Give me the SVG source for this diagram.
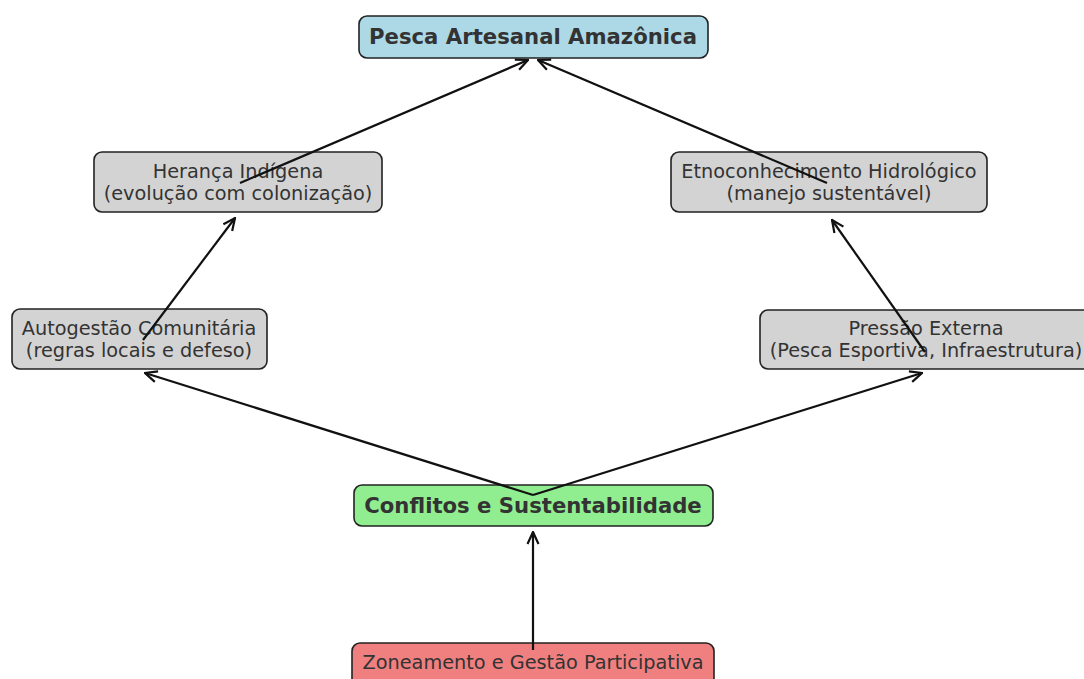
<svg xmlns="http://www.w3.org/2000/svg" width="1084" height="679" viewBox="0 0 1084 679">
<style>
.box{stroke:#222;stroke-width:1.6}
.t{font-family:"DejaVu Sans",sans-serif;font-size:19.3px;fill:#333;text-anchor:middle}
.b{font-weight:bold;font-size:21.2px}
.c{stroke:#111;stroke-width:2.2;fill:none;marker-end:url(#ah)}
</style>
<defs>
<marker id="ah" viewBox="0 0 14 14" refX="13" refY="7" markerWidth="14" markerHeight="14" markerUnits="userSpaceOnUse" orient="auto">
<path d="M1,1.5 L13,7 L1,12.5" fill="none" stroke="#111" stroke-width="2.2"/>
</marker>
</defs>
<rect width="1084" height="679" fill="#fff"/>
<g id="n1"><rect class="box" x="359" y="16" width="349" height="42" rx="8" fill="#add8e6"/><text class="t b" x="533" y="44">Pesca Artesanal Amazônica</text></g>
<g id="n2"><rect class="box" x="94" y="152" width="288" height="60" rx="8" fill="#d3d3d3"/><text class="t" x="238" y="178">Herança Indígena</text><text class="t" x="238" y="200">(evolução com colonização)</text></g>
<g id="n3"><rect class="box" x="671" y="152" width="316" height="60" rx="8" fill="#d3d3d3"/><text class="t" x="829" y="178">Etnoconhecimento Hidrológico</text><text class="t" x="829" y="200">(manejo sustentável)</text></g>
<g id="n4"><rect class="box" x="12" y="309" width="255" height="60" rx="8" fill="#d3d3d3"/><text class="t" x="139" y="335">Autogestão Comunitária</text><text class="t" x="139" y="357">(regras locais e defeso)</text></g>
<g id="n5"><rect class="box" x="760" y="310" width="334" height="59" rx="8" fill="#d3d3d3"/><text class="t" x="926" y="335">Pressão Externa</text><text class="t" x="926" y="357">(Pesca Esportiva, Infraestrutura)</text></g>
<g id="n6"><rect class="box" x="354" y="485" width="359" height="41" rx="8" fill="#90ee90"/><text class="t b" x="533" y="513">Conflitos e Sustentabilidade</text></g>
<g id="n7"><rect class="box" x="352" y="643" width="362" height="45" rx="8" fill="#f08080"/><text class="t" x="533" y="669">Zoneamento e Gestão Participativa</text></g>
<g id="edges">
<line class="c" x1="240" y1="183" x2="528" y2="60"/>
<line class="c" x1="827" y1="183" x2="538" y2="60"/>
<line class="c" x1="143" y1="340" x2="235" y2="218"/>
<line class="c" x1="925" y1="352" x2="832" y2="220"/>
<line class="c" x1="533" y1="495" x2="145" y2="373"/>
<line class="c" x1="533" y1="495" x2="922" y2="373"/>
<line class="c" x1="533" y1="650" x2="533" y2="532"/>
</g>
</svg>
